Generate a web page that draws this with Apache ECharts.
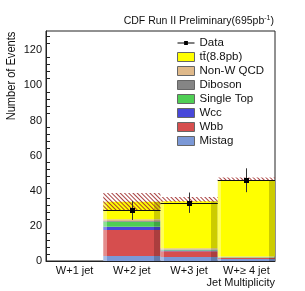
<!DOCTYPE html>
<html><head><meta charset="utf-8">
<script src="https://cdn.jsdelivr.net/npm/echarts@6/dist/echarts.min.js"></script>
<style>html,body{margin:0;padding:0;background:#fff}#c{width:305px;height:291px}</style>
</head><body><div id="c"></div>
<script>
// ---- data ----
const categories = ['W+1 jet', 'W+2 jet', 'W+3 jet', 'W+\u2265 4 jet'];
const mistag    = [0, 2.8, 2.3, 1.2];
const wbb       = [0, 14.8, 3.3, 0.6];
const wcc       = [0, 1.9, 0.4, 0.1];
const singleTop = [0, 2.9, 0.4, 0.2];
const diboson   = [0, 0.4, 0.2, 0.1];
const nonWQCD   = [0, 1.0, 0.6, 0.3];
const ttbar     = [0, 9.9, 26.8, 43.0];
const dataValues = [null, 28.8, 33.2, 46.0];
const dataErrors = [null, 5.4, 5.8, 6.8];
const bandLow  = [null, 29.0, 33.8, 45.5];
const bandHigh = [null, 38.8, 36.5, 47.5];
const yTicks = [0, 20, 40, 60, 80, 100, 120];

// ---- helpers ----
function hexToRgb(h){h=h.replace('#','');return [parseInt(h.substr(0,2),16),parseInt(h.substr(2,2),16),parseInt(h.substr(4,2),16)];}
function rgb(a){return 'rgb('+a.map(v=>Math.round(v)).join(',')+')';}
function tint(h,f){return rgb(hexToRgb(h).map(v=>v+(255-v)*f));}
function shade(h,f){return rgb(hexToRgb(h).map(v=>v*f));}
function grad(c){
  return {type:'linear',x:0,y:0,x2:1,y2:0,colorStops:[
    {offset:0,color:tint(c,0.35)},{offset:0.06,color:tint(c,0.35)},
    {offset:0.06,color:c},{offset:0.89,color:c},
    {offset:0.89,color:shade(c,0.8)},{offset:1,color:shade(c,0.8)}]};
}

const TT = 't\u0074\u0304(8.8pb)';
const stackDefs = [
  ['Mistag', mistag, '#7b98d6'],
  ['Wbb', wbb, '#d64e4e'],
  ['Wcc', wcc, '#4848da'],
  ['Single Top', singleTop, '#4fcf55'],
  ['Diboson', diboson, '#858585'],
  ['Non-W QCD', nonWQCD, '#dfb98a'],
  [TT, ttbar, '#ffff00']
];
const colorOf = {};
stackDefs.forEach(d=>colorOf[d[0]]=d[2]);

const series = stackDefs.map(d=>({
  name:d[0], type:'bar', stack:'mc', data:d[1], barWidth:'100%', barGap:'-100%', barCategoryGap:'0%',
  itemStyle:{color:grad(d[2])}, emphasis:{disabled:true}, z:2
}));
series.push({
  name:'bandBase', type:'bar', stack:'band', barWidth:'100%', barGap:'-100%',
  data:bandLow.map(v=>v==null?0:v), itemStyle:{color:'rgba(0,0,0,0)'}, z:3, silent:true
});
series.push({
  name:'band', type:'bar', stack:'band', barWidth:'100%', barGap:'-100%',
  data:bandLow.map((v,i)=>v==null?0:bandHigh[i]-v),
  itemStyle:{color:'rgba(0,0,0,0)', decal:{symbol:'rect',symbolSize:1,dashArrayX:[1,0],dashArrayY:[1,2],rotation:Math.PI/4,color:'rgba(160,45,45,0.9)'}},
  z:3, silent:true
});
const dataPts = [];
dataValues.forEach((v,i)=>{ if(v!=null) dataPts.push([i, v, dataErrors[i]]); });
series.push({
  name:'Data', type:'custom', z:5,
  renderItem:function(params, api){
    const x=api.value(0), y=api.value(1), e=api.value(2);
    const c=api.coord([x,y]), t=api.coord([x,y+e]), b=api.coord([x,y-e]);
    const w=api.size([1,0])[0];
    const cy=Math.round(c[1])+0.5, cx=Math.round(c[0])+0.5;
    return {type:'group',children:[
      {type:'line',shape:{x1:c[0]-w/2,y1:cy,x2:c[0]+w/2,y2:cy},style:{stroke:'#111',lineWidth:1}},
      {type:'line',shape:{x1:cx,y1:t[1],x2:cx,y2:b[1]},style:{stroke:'#333',lineWidth:1}},
      {type:'rect',shape:{x:cx-2.5,y:cy-2.5,width:5,height:5},style:{fill:'#000'}}
    ]};
  },
  data:dataPts
});

const legendOrder = ['Data', TT, 'Non-W QCD', 'Diboson', 'Single Top', 'Wcc', 'Wbb', 'Mistag'];
const legendData = legendOrder.map(n=> n==='Data'
  ? {name:n, icon:'path://M9,0h0.01v0.01H9z M9,9h0.01v-0.01H9z M0,4h18v1H0z M7,2.5h4v4H7z', itemStyle:{color:'#000', borderWidth:0}}
  : {name:n, icon:'rect', itemStyle:{color:colorOf[n], borderColor:'#666', borderWidth:1}});

const chart = echarts.init(document.getElementById('c'), null, {renderer:'canvas'});
chart.setOption({
  animation:false,
  backgroundColor:'#fff',
  textStyle:{fontFamily:'Liberation Sans, Arial, sans-serif'},
  grid:{left:46, right:30, top:31, bottom:30, show:true, borderColor:'#222', borderWidth:1, backgroundColor:'transparent'},
  legend:{
    data:legendData, orient:'vertical', left:177, top:37, padding:0,
    itemWidth:17, itemHeight:9, itemGap:2, selectedMode:false,
    textStyle:{fontSize:11.5, color:'#111', lineHeight:12, fontFamily:'Liberation Sans, Arial, sans-serif'}
  },
  xAxis:{
    type:'category', data:categories, z:10,
    axisLine:{lineStyle:{color:'#222'}},
    axisTick:{inside:true, alignWithLabel:true, length:6, lineStyle:{color:'#222'}},
    axisLabel:{fontSize:11, color:'#111', margin:4, interval:0}
  },
  yAxis:{
    type:'value', min:0, max:131, interval:20, z:10,
    axisLine:{show:true, lineStyle:{color:'#222'}},
    axisTick:{inside:true, length:8, lineStyle:{color:'#222'}},
    minorTick:{show:true, splitNumber:5, length:4, lineStyle:{color:'#222'}},
    splitLine:{show:false},
    axisLabel:{fontSize:11, color:'#111', margin:4, showMaxLabel:false,
      formatter:function(v){return yTicks.indexOf(v)>=0?String(v):'';}}
  },
  graphic:[
    {type:'text', x:274, y:21, style:{
      text:'{a|CDF Run II Preliminary(695pb}{s|-1}{a|)}', textAlign:'right', textVerticalAlign:'middle',
      rich:{a:{fontSize:10.5, fill:'#111', fontFamily:'Liberation Sans, Arial, sans-serif'},
            s:{fontSize:7, fill:'#111', verticalAlign:'top', padding:[0,0,6,0], fontFamily:'Liberation Sans, Arial, sans-serif'}}}},
    {type:'text', x:11, y:76, rotation:Math.PI/2, scaleX:0.82, style:{
      text:'Number of Events', textAlign:'center', textVerticalAlign:'middle',
      fontSize:13.5, fill:'#111', fontFamily:'Liberation Sans, Arial, sans-serif'}},
    {type:'text', x:275, y:283, style:{
      text:'Jet Multiplicity', textAlign:'right', textVerticalAlign:'middle',
      fontSize:11, fill:'#111', fontFamily:'Liberation Sans, Arial, sans-serif'}}
  ],
  series:series
});
</script></body></html>
